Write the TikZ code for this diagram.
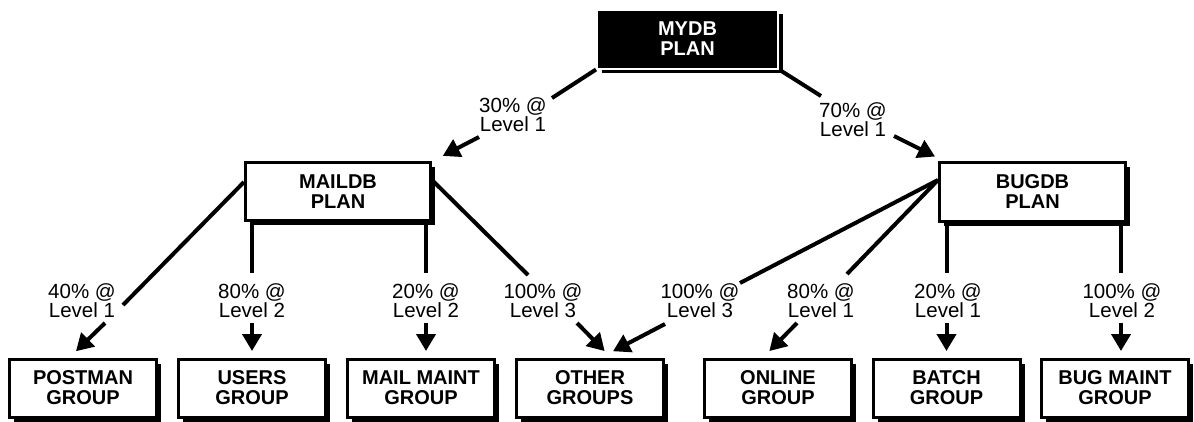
\documentclass[tikz,border=0pt]{standalone}
\usepackage{fontspec}
\setmainfont{Liberation Sans}
\usetikzlibrary{arrows.meta,shadows}
\begin{document}
\begin{tikzpicture}[x=1pt,y=-1pt,
  box/.style={draw=black, line width=3pt, fill=white, inner sep=0pt, align=center,
    minimum width=147pt, minimum height=58pt,
    font=\fontsize{20}{20}\selectfont\bfseries,
    drop shadow={shadow xshift=4.5pt, shadow yshift=-4.5pt, opacity=1, fill=black}},
  topbox/.style={box, draw=white, line width=2pt, fill=black, text=white},
  lab/.style={inner sep=0pt, align=center, font=\fontsize{20.5}{19}\selectfont},
  conn/.style={line width=4pt, draw=black},
  arr/.style={conn, -{Triangle[length=17pt,width=19pt]}}]
\useasboundingbox (0,0) rectangle (1194,421);
% boxes
\node[topbox, minimum width=181pt, minimum height=59pt] (mydb) at (687.5,39) {MYDB\\PLAN};
\node[box, minimum width=185pt, minimum height=58pt] (maildb) at (338,191.5) {MAILDB\\PLAN};
\node[box, minimum width=186pt, minimum height=59pt] (bugdb) at (1032.5,192) {BUGDB\\PLAN};
\node[box] (postman) at (83,388) {POSTMAN\\GROUP};
\node[box] (users) at (252,388) {USERS\\GROUP};
\node[box] (mailmaint) at (421,388) {MAIL MAINT\\GROUP};
\node[box] (other) at (590,388) {OTHER\\GROUPS};
\node[box] (online) at (778,388) {ONLINE\\GROUP};
\node[box] (batch) at (946.5,388) {BATCH\\GROUP};
\node[box] (bugmaint) at (1115,388) {BUG MAINT\\GROUP};
% labels
\node[lab] (l30) at (513,115) {30\% @\\Level 1};
\node[lab] (l70) at (853,120) {70\% @\\Level 1};
\node[lab] (l40) at (82,301) {40\% @\\Level 1};
\node[lab] (l80a) at (252,301) {80\% @\\Level 2};
\node[lab] (l20a) at (426,301) {20\% @\\Level 2};
\node[lab] (l100a) at (543,301) {100\% @\\Level 3};
\node[lab] (l100b) at (700,301) {100\% @\\Level 3};
\node[lab] (l80b) at (821,301) {80\% @\\Level 1};
\node[lab] (l20b) at (948,301) {20\% @\\Level 1};
\node[lab] (l100c) at (1122,301) {100\% @\\Level 2};
% break points of connectors
\coordinate (c1a) at (552,98);  \coordinate (c1b) at (479,137);
\coordinate (c2a) at (821,96);  \coordinate (c2b) at (894,136);
\coordinate (c3a) at (123,305); \coordinate (c3b) at (105,323);
\coordinate (c4a) at (252,273); \coordinate (c4b) at (252,323);
\coordinate (c5a) at (426,273); \coordinate (c5b) at (426,323);
\coordinate (c6a) at (528,275); \coordinate (c6b) at (577,323);
\coordinate (c7a) at (740,283); \coordinate (c7b) at (665,324);
\coordinate (c8a) at (847,274); \coordinate (c8b) at (797,323);
\coordinate (c9a) at (946.5,273); \coordinate (c9b) at (946.5,323);
\coordinate (c10a) at (1121,273); \coordinate (c10b) at (1121,323);
% connectors
\draw[conn] (mydb.south west) -- (c1a);
\draw[arr, shorten >=11pt] (c1b) -- ([xshift=1pt]maildb.north east);
\draw[conn] (mydb.south east) -- (c2a);
\draw[arr, shorten >=10pt] (c2b) -- ([xshift=6pt]bugdb.north west);
\draw[conn] ([yshift=9.5pt]maildb.west) -- (c3a);
\draw[arr, shorten >=9pt] (c3b) -- ([xshift=-13.5pt]postman.north);
\draw[conn] (c4a |- maildb.south) -- (c4a);
\draw[arr, shorten >=6.5pt] (c4b) -- (users.north);
\draw[conn] (c5a |- maildb.south) -- (c5a);
\draw[arr, shorten >=6.5pt] (c5b) -- ([xshift=5pt]mailmaint.north);
\draw[conn] ([yshift=11.5pt]maildb.east) -- (c6a);
\draw[arr, shorten >=9pt] (c6b) -- ([xshift=21pt]other.north);
\draw[conn] ([yshift=12pt]bugdb.west) -- (c7a);
\draw[arr, shorten >=13.5pt] (c7b) -- ([xshift=11pt]other.north);
\draw[conn] ([yshift=12pt]bugdb.west) -- (c8a);
\draw[arr, shorten >=9pt] (c8b) -- ([xshift=-15pt]online.north);
\draw[conn] (c9a |- bugdb.south) -- (c9a);
\draw[arr, shorten >=6.5pt] (c9b) -- (batch.north);
\draw[conn] (c10a |- bugdb.south) -- (c10a);
\draw[arr, shorten >=6.5pt] (c10b) -- ([xshift=6pt]bugmaint.north);
\end{tikzpicture}
\end{document}
